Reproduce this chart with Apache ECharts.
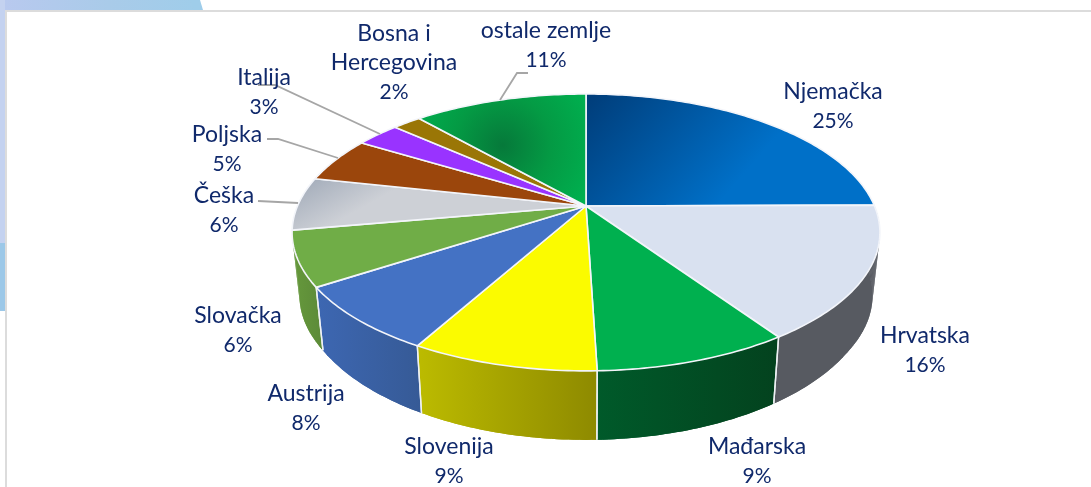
<!DOCTYPE html>
<html>
<head>
<meta charset="utf-8">
<style>html,body{margin:0;padding:0;background:#fff}#c{width:1091px;height:487px}</style>
<script src="https://cdn.jsdelivr.net/npm/echarts@6/dist/echarts.min.js"></script>
</head>
<body>
<div id="c"></div>
<script>
// Data (clockwise from 12 o'clock)
const categories = ['Njemačka','Hrvatska','Mađarska','Slovenija','Austrija','Slovačka','Češka','Poljska','Italija','Bosna i\nHercegovina','ostale zemlje'];
const values = [24.9,15.6,9.0,8.6,7.7,6.4,6.2,5.3,2.9,1.9,11.5];

// Appearance
const G = (x,y,x2,y2,a,b)=>new echarts.graphic.LinearGradient(x,y,x2,y2,[{offset:0,color:a},{offset:1,color:b}]);
const topFills = [
  G(0,0,0.45,1,'#003c78','#0070c8'),'#d9e1f0','#00b04f','#fbfb00','#4472c4','#70ad47',
  G(0,0,0.1,1,'#9da7b6','#cdd0d6'),'#9b460c','#9933ff','#9a7606',
  new echarts.graphic.RadialGradient(0.5,0.46,0.85,[{offset:0,color:'#06793a'},{offset:0.5,color:'#049a44'},{offset:1,color:'#00b04f'}])
];
const sideStops = [
  ['#575a61','#575a61'],['#575a61','#575a61'],['#005a2a','#03421e'],['#bcbb00','#8e8a00'],
  ['#3d67b2','#365a96'],['#66993c','#5c8a38'],['#6b7280','#6b7280'],['#7a3608','#7a3608'],['#7a28cc','#7a28cc'],['#7a5c05','#7a5c05'],['#007a38','#007a38']
];
const textColor = '#10296b';

// Projected pie geometry
const CX=586, CY=206, AX=288.5, BY=133.4, PERSP=0.191, MID_Y=232;
const WALL={sx:0.975, y0:288, y1:371, d0:63, d1:69};
const labelAt = [[833,106],[925,350],[757,461],[449,461],[306,408],[238,330],[224,210],[227,149],[264,92],[394,63],[546,45]];
const leaders = {
  6:[[258,201],[298,203]],
  7:[[267,139],[278,139],[338,158]],
  8:[[258,85],[275,85],[380,134]],
  10:[[528,73],[517,73],[500,100]]
};

const total = values.reduce((a,b)=>a+b,0);
const starts = []; values.reduce((a,v,i)=>(starts[i]=a,a+v),0);
const top3d = t=>{
  const u=Math.sin(t), v=-Math.cos(t), w=1-PERSP*v;
  return [CX+AX*u/w, CY+BY*v/w];
};
const low3d = p=>{
  const f=Math.max(0,Math.min(1,(p[1]-WALL.y0)/(WALL.y1-WALL.y0)));
  return [CX+(p[0]-CX)*WALL.sx, p[1]+WALL.d0+(WALL.d1-WALL.d0)*f];
};
const arc = i=>{
  const a=starts[i]/total*2*Math.PI, b=(starts[i]+values[i])/total*2*Math.PI;
  const n=Math.max(8,Math.ceil((b-a)*60)), pts=[];
  for(let k=0;k<=n;k++) pts.push(top3d(a+(b-a)*k/n));
  return pts;
};

const base = {type:'custom',coordinateSystem:'none',silent:true,animation:false,clip:false,data:values.map((v,i)=>[i,v])};
const chart = echarts.init(document.getElementById('c'),null,{renderer:'canvas'});
chart.setOption({
  animation:false,
  backgroundColor:'#fff',
  graphic:{elements:[
    {type:'rect',z:-10,shape:{x:0,y:0,width:198,height:10},style:{fill:new echarts.graphic.LinearGradient(0,0,1,0,[{offset:0,color:'#b9c9ef'},{offset:0.55,color:'#a9cbe9'},{offset:1,color:'#9fcdea'}])}},
    {type:'polygon',z:-10,shape:{points:[[190,0],[200,0],[203,10],[194,10]]},style:{fill:'#9fcdea'}},
    {type:'rect',z:-10,shape:{x:0,y:0,width:5,height:243},style:{fill:'#c4d2f0'}},
    {type:'rect',z:-10,shape:{x:0,y:243,width:5,height:68},style:{fill:'#9cc8e8'}},
    {type:'rect',z:-9,shape:{x:5,y:10,width:1086,height:2},style:{fill:'#dcdcdc'}},
    {type:'rect',z:-9,shape:{x:5,y:10,width:2,height:477},style:{fill:'#dcdcdc'}}
  ]},
  series:[
    Object.assign({},base,{z:1,renderItem:(p)=>{
      const i=p.dataIndex, t=arc(i);
      if(Math.max(...t.map(q=>q[1]))<MID_Y) return {type:'group',children:[]};
      const b=t.map(low3d);
      const xs=t.concat(b).map(q=>q[0]);
      const fill=new echarts.graphic.LinearGradient(Math.min(...xs),0,Math.max(...xs),0,
        [{offset:0,color:sideStops[i][0]},{offset:1,color:sideStops[i][1]}],true);
      const kids=[];
      // thin strips only matter at the silhouette; the whole wall polygon sits over them
      for(let k=0;k<t.length-1;k++){
        kids.push({type:'polygon',z2:1,shape:{points:[t[k],t[k+1],b[k+1],b[k]]},style:{fill}});
      }
      kids.push({type:'polygon',z2:2,shape:{points:t.concat(b.slice().reverse())},style:{fill}});
      [0,t.length-1].forEach(k=>{
        if(t[k][1]>MID_Y) kids.push({type:'line',z2:5,shape:{x1:t[k][0],y1:t[k][1],x2:b[k][0],y2:b[k][1]},style:{stroke:'#eef1f4',lineWidth:1.4}});
      });
      return {type:'group',children:kids};
    }}),
    Object.assign({},base,{z:2,renderItem:(p)=>{
      const i=p.dataIndex;
      return {type:'polygon',shape:{points:[[CX,CY]].concat(arc(i))},style:{fill:topFills[i],stroke:'#f3f5fa',lineWidth:1.6,lineJoin:'round'}};
    }}),
    Object.assign({},base,{z:3,renderItem:(p)=>{
      const i=p.dataIndex, kids=[];
      if(leaders[i]) kids.push({type:'polyline',shape:{points:leaders[i]},style:{fill:null,stroke:'#a6a6a6',lineWidth:1.8}});
      const lines=categories[i].split('\n').map(s=>'{n|'+s+'}');
      lines.push('{p|'+Math.round(values[i]/total*100)+'%}');
      kids.push({type:'text',style:{
        x:labelAt[i][0],y:labelAt[i][1],
        text:lines.join('\n'),
        align:'center',verticalAlign:'middle',
        rich:{
          n:{font:'23px Lato, "Open Sans", sans-serif',fill:textColor,lineHeight:29.5},
          p:{font:'21px Lato, "Open Sans", sans-serif',fill:textColor,lineHeight:29.5}
        }
      }});
      return {type:'group',children:kids};
    }})
  ]
});
</script>
</body>
</html>
